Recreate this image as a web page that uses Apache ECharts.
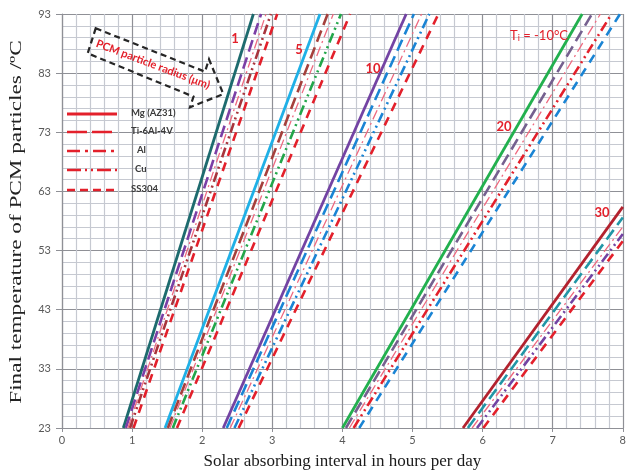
<!DOCTYPE html>
<html>
<head>
<meta charset="utf-8">
<script src="https://cdn.jsdelivr.net/npm/echarts@6/dist/echarts.min.js"></script>
<style>
  html, body { margin: 0; padding: 0; background: #ffffff; }
  #chart { width: 629px; height: 476px; }
</style>
</head>
<body>
<div id="chart"></div>
<script>
// ---- data -------------------------------------------------------------
const hourTicks = [0, 1, 2, 3, 4, 5, 6, 7, 8];
const tempTicks = [23, 33, 43, 53, 63, 73, 83, 93];
const radii = ['1', '5', '10', '20', '30'];
const materials = ['Mg (AZ31)', 'Ti-6Al-4V', 'Al', 'Cu', 'SS304'];

// hours of absorption at which each material reaches 23 °C and 93 °C
const r1At23 = [0.875, 0.91, 0.94, 0.97, 1.02];
const r1At93 = [2.73, 2.84, 2.91, 2.98, 3.07];
const r5At23 = [1.47, 1.51, 1.54, 1.58, 1.64];
const r5At93 = [3.68, 3.79, 3.87, 3.98, 4.11];
const r10At23 = [2.30, 2.35, 2.40, 2.46, 2.52];
const r10At93 = [4.91, 5.02, 5.13, 5.24, 5.37];
const r20At23 = [4.00, 4.05, 4.10, 4.16, 4.24];
const r20At93 = [7.42, 7.56, 7.68, 7.84, 7.96];
// radius 30 stays below 93 °C: final temperature after 8 hours instead
const r30At23 = [5.72, 5.79, 5.85, 5.92, 6.01];
const r30TempAt8h = [60.4, 58.6, 57.0, 55.8, 54.6];

// ---- styles -------------------------------------------------------------
const groupColors = [
  ['#1d6b6e', '#7b3fa6', '#ee6a80', '#a8343c', '#e3202b'],
  ['#1fb0e6', '#a5403c', '#ee6a80', '#22a64a', '#e3202b'],
  ['#7343a3', '#1a84d4', '#ee6a80', '#1a84d4', '#e3202b'],
  ['#22b04e', '#75608f', '#ee6a80', '#e3202b', '#1a84d4'],
  ['#b3222e', '#2196a6', '#ee6a80', '#7343a3', '#e3202b']
];
const materialDash = [
  { type: 'solid', width: 2.8 },
  { type: [12, 6], width: 2.6 },
  { type: [10, 4, 2, 4], width: 1.3 },
  { type: [10, 4, 2, 4, 2, 4], width: 2.6 },
  { type: [9, 7], width: 2.6 }
];
const legendDash = ['solid', [20, 5], [13, 5, 3, 5], [14, 4, 2, 4, 2, 4], [8, 5]];
const red = '#e3202b';

// ---- series -------------------------------------------------------------
const groups = [
  { from: r1At23, to: r1At93.map(h => [h, 93]) },
  { from: r5At23, to: r5At93.map(h => [h, 93]) },
  { from: r10At23, to: r10At93.map(h => [h, 93]) },
  { from: r20At23, to: r20At93.map(h => [h, 93]) },
  { from: r30At23, to: r30TempAt8h.map(t => [8, t]) }
];

const series = [];
groups.forEach((g, gi) => {
  materials.forEach((m, mi) => {
    series.push({
      name: 'r' + radii[gi] + ' ' + m,
      type: 'line',
      xAxisIndex: 0,
      yAxisIndex: 1,
      symbol: 'none',
      silent: true,
      clip: true,
      lineStyle: {
        color: groupColors[gi][mi],
        width: materialDash[mi].width,
        type: materialDash[mi].type
      },
      data: [[g.from[mi], 23], g.to[mi]]
    });
  });
});

// ---- legend and annotations --------------------------------------------
const graphics = [];
const legendY = [114, 132, 151, 170, 190];
const legendTextX = [131, 131, 137, 135, 131];
materials.forEach((m, i) => {
  graphics.push({
    type: 'line',
    shape: { x1: 67, y1: legendY[i], x2: 117, y2: legendY[i] },
    style: { stroke: red, lineWidth: i === 0 ? 3 : 2.6, lineDash: legendDash[i] === 'solid' ? null : legendDash[i] },
    z: 10
  });
  graphics.push({
    type: 'text',
    x: legendTextX[i], y: legendY[i] - 1,
    style: {
      text: m, fill: '#3a3a3a', font: 'bold 9.5px Lato, "Open Sans", sans-serif',
      textVerticalAlign: 'middle'
    },
    z: 10
  });
});

// dashed arrow pointing towards growing particle radius
graphics.push({
  type: 'polygon',
  shape: {
    points: [[95.7, 28.3], [205, 71.7], [209, 59.3], [223.3, 94], [190, 107.3], [193.5, 96.7], [87.7, 53.3]]
  },
  style: { fill: 'rgba(0,0,0,0)', stroke: '#262626', lineWidth: 2.2, lineDash: [6, 4] },
  z: 10
});
graphics.push({
  type: 'text',
  x: 153, y: 64.5,
  rotation: -20.6 * Math.PI / 180,
  style: {
    text: 'PCM particle radius (μm)', fill: red,
    font: 'bold 11px Lato, "Open Sans", sans-serif',
    textAlign: 'center', textVerticalAlign: 'middle'
  },
  z: 10
});

// radius labels beside each family of curves
const radiusLabelPos = [[235, 39], [299, 50], [373, 69], [504, 127], [602, 213]];
radii.forEach((r, i) => {
  graphics.push({
    type: 'text',
    x: radiusLabelPos[i][0], y: radiusLabelPos[i][1],
    style: {
      text: r, fill: red, font: 'bold 13px Lato, "Open Sans", sans-serif',
      textAlign: 'center', textVerticalAlign: 'middle'
    },
    z: 10
  });
});

// initial temperature note
graphics.push({
  type: 'text',
  x: 510, y: 36,
  style: {
    text: '{a|T}{b|i}{a| = -10°C}',
    textVerticalAlign: 'middle',
    rich: {
      a: { fill: red, font: '13px Lato, "Open Sans", sans-serif' },
      b: { fill: red, font: '9px Lato, "Open Sans", sans-serif', padding: [5, 0, 0, 0] }
    }
  },
  z: 10
});

// vertical axis title
graphics.push({
  type: 'text',
  x: 17, y: 222,
  rotation: Math.PI / 2,
  scaleX: 1.45,
  style: {
    text: 'Final temperature of PCM particles /ºC', fill: '#222222',
    font: '16px "Liberation Serif", "DejaVu Serif", serif',
    textAlign: 'center', textVerticalAlign: 'middle'
  }
});

// ---- chart --------------------------------------------------------------
const gridMinor = { show: true, lineStyle: { color: '#c6c9d1', width: 1.2 } };
const gridMajor = { show: true, lineStyle: { color: '#8f9096', width: 1.2 } };

const option = {
  backgroundColor: '#ffffff',
  animation: false,
  grid: { left: 62, right: 6, top: 14, bottom: 48, containLabel: false },
  xAxis: {
    type: 'value', min: 0, max: 8, interval: 1,
    name: 'Solar absorbing interval in hours per day',
    nameLocation: 'middle', nameGap: 25,
    nameTextStyle: { fontFamily: '"Liberation Serif", "DejaVu Serif", serif', fontSize: 17, color: '#1a1a1a' },
    axisLine: { show: true, lineStyle: { color: '#8f9096', width: 1.2 } },
    axisTick: { show: true, length: 4, lineStyle: { color: '#8f9096' } },
    axisLabel: {
      margin: 7, color: '#595959', fontSize: 11, fontFamily: 'Lato, "Open Sans", sans-serif',
      formatter: v => String(hourTicks[Math.round(v)])
    },
    splitLine: gridMajor,
    minorTick: { show: false, splitNumber: 5 },
    minorSplitLine: gridMinor
  },
  yAxis: [
    {
      // displayed temperature scale, offset from 23 °C
      type: 'value', min: 0, max: 70, interval: 10,
      axisLine: { show: true, lineStyle: { color: '#8f9096', width: 1.2 } },
      axisTick: { show: true, length: 6, lineStyle: { color: '#8f9096' } },
      axisLabel: {
        margin: 11, color: '#595959', fontSize: 11, fontFamily: 'Lato, "Open Sans", sans-serif',
        formatter: v => String(tempTicks[Math.round(v / 10)])
      },
      splitLine: gridMajor,
      minorTick: { show: false, splitNumber: 5 },
      minorSplitLine: gridMinor
    },
    {
      // data scale in °C
      type: 'value', min: 23, max: 93, show: false,
      splitLine: { show: false }
    }
  ],
  graphic: graphics,
  series: series
};

const chart = echarts.init(document.getElementById('chart'), null, { renderer: 'canvas' });
chart.setOption(option);
</script>
</body>
</html>
